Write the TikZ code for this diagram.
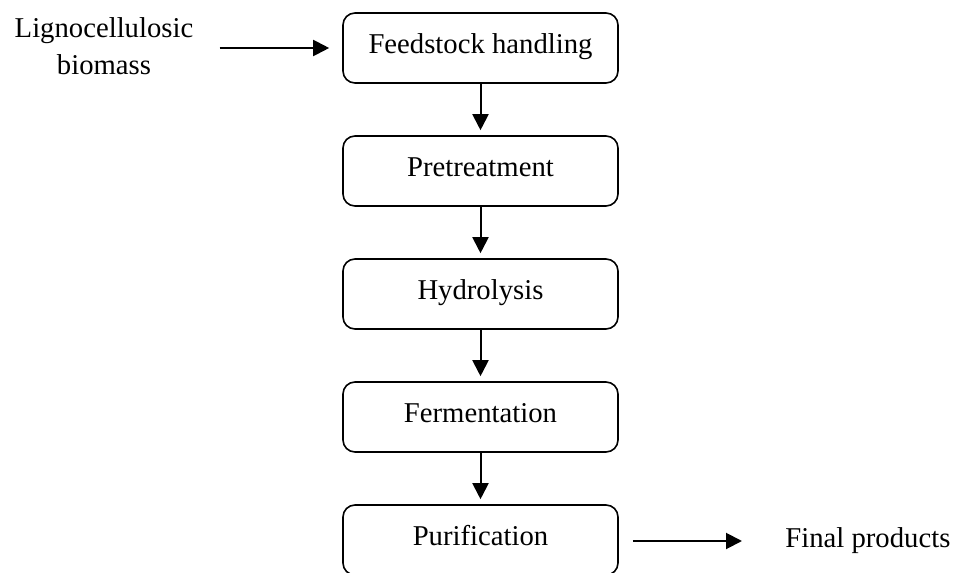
\documentclass[tikz,border=0pt]{standalone}
\usepackage{fontspec}
\setmainfont{Liberation Serif}
\usetikzlibrary{arrows.meta}
\usetikzlibrary{positioning}
\tikzset{stage/.style = {draw, rounded corners = 6pt, line width = 0.8pt, minimum width = 137.5pt, minimum height = 35pt, inner sep = 0, text height = 10pt, text depth = 4.5pt}}
\tikzset{flow/.style = {-{Triangle[length = 8pt, width = 8pt]}, line width = 1pt}}

\begin{document}
\begin{tikzpicture}[x = 0.5pt, y = -0.5pt, font = \fontsize{14.35}{18.5}\selectfont]
      \useasboundingbox (0, 0) rectangle (955, 573);
      \node [align = center, inner sep = 0] (biomass) at (104, 46) {Lignocellulosic\\biomass};
      \foreach \name/\txt [count = \i from 0] in {feed/Feedstock handling, pre/Pretreatment, hyd/Hydrolysis, ferm/Fermentation, pur/Purification} {
        \node [stage] (\name) at (480.5, 48 + 123 * \i) {\txt};
      }
      \foreach \a/\b in {feed/pre, pre/hyd, hyd/ferm, ferm/pur} {
        \draw [flow, shorten >= 2.5pt] (\a) -- (\b);
      }
      \node [inner sep = 0, anchor = west] (products) at (785, 541) {Final products};
      \draw [flow, shorten <= 13pt, shorten >= 6.5pt] (biomass.east |- feed.west) -- (feed.west);
      \draw [flow, shorten <= 7pt, shorten >= 21.5pt] (pur.east |- products.west) -- (products.west);
    \end{tikzpicture}
\end{document}
